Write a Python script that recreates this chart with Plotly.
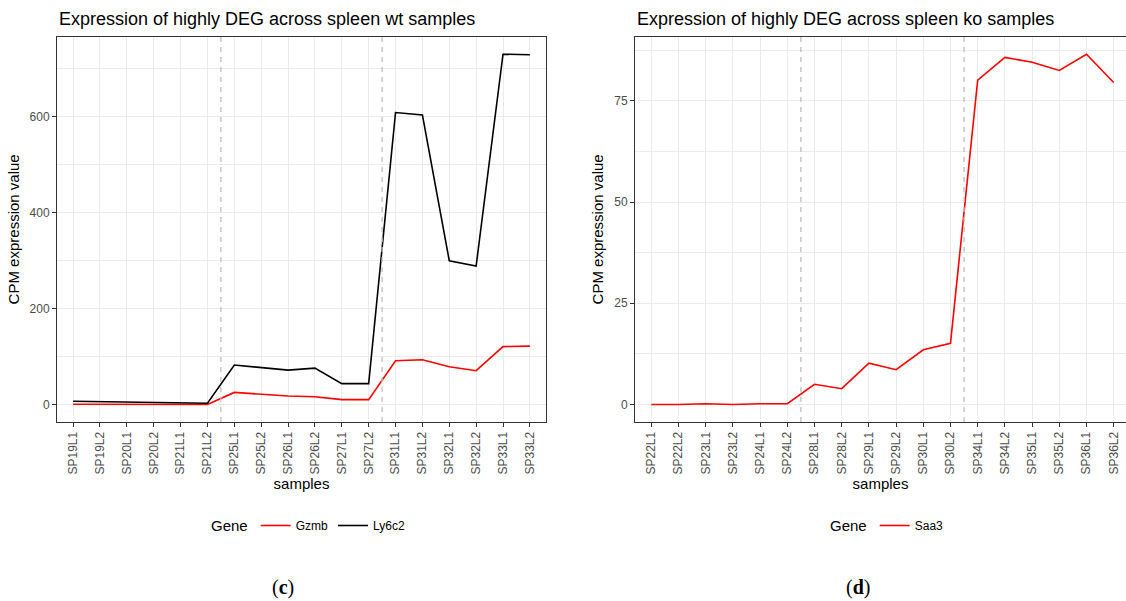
import plotly.graph_objects as go

# ---------------- data ----------------
wt_samples = ["SP19L1", "SP19L2", "SP20L1", "SP20L2", "SP21L1", "SP21L2",
              "SP25L1", "SP25L2", "SP26L1", "SP26L2", "SP27L1", "SP27L2",
              "SP31L1", "SP31L2", "SP32L1", "SP32L2", "SP33L1", "SP33L2"]
wt_gzmb = [0.8, 0.7, 0.5, 0.4, 0.3, 0.3,
           25.5, 22, 18, 16.5, 10.4, 10.4,
           91.5, 93.6, 79, 70.7, 121, 122]
wt_ly6c2 = [7, 6, 5, 4, 3, 3,
            82.5, 78, 72, 76, 43.7, 43.7,
            609, 604, 300, 289, 730.5, 729.5]

ko_samples = ["SP22L1", "SP22L2", "SP23L1", "SP23L2", "SP24L1", "SP24L2",
              "SP28L1", "SP28L2", "SP29L1", "SP29L2", "SP30L1", "SP30L2",
              "SP34L1", "SP34L2", "SP35L1", "SP35L2", "SP36L1", "SP36L2"]
ko_saa3 = [0.0, 0.0, 0.2, 0.0, 0.2, 0.2,
           5.0, 3.9, 10.2, 8.6, 13.5, 15.1,
           80.1, 85.7, 84.5, 82.5, 86.5, 79.5]

group_sizes = [6, 6, 6]

# ---------------- style ----------------
FONT = "Liberation Sans"
GRID = "#EBEBEB"
BORDER = "#333333"
TICKTXT = "#4D4D4D"
W, H = 1126, 601

def px_x(p):
    return p / W

def px_y(p):
    return 1 - p / H

def expand(vals):
    lo, hi = min(vals), max(vals)
    span = hi - lo
    return [lo - 0.05 * span, hi + 0.05 * span]

fig = go.Figure()

fig.add_trace(go.Scatter(x=wt_samples, y=wt_gzmb, mode="lines", name="Gzmb",
                         line=dict(color="#FF0000", width=1.6),
                         xaxis="x", yaxis="y", legend="legend"))
fig.add_trace(go.Scatter(x=wt_samples, y=wt_ly6c2, mode="lines", name="Ly6c2",
                         line=dict(color="#000000", width=1.6),
                         xaxis="x", yaxis="y", legend="legend"))
fig.add_trace(go.Scatter(x=ko_samples, y=ko_saa3, mode="lines", name="Saa3",
                         line=dict(color="#FF0000", width=1.6),
                         xaxis="x2", yaxis="y2", legend="legend2"))

ydom = [px_y(422), px_y(36.7)]
common_x = dict(type="category", showgrid=True, gridcolor=GRID, gridwidth=1,
                showline=True, linecolor=BORDER, linewidth=1,
                ticks="outside", ticklen=4, tickcolor=BORDER, tickwidth=1,
                tickangle=-90, tickfont=dict(family=FONT, size=12, color=TICKTXT),
                zeroline=False,
                title=dict(text="samples", font=dict(family=FONT, size=15, color="black"),
                           standoff=4))
common_y = dict(showgrid=True, gridcolor=GRID, gridwidth=1,
                showline=True, linecolor=BORDER, linewidth=1,
                ticks="outside", ticklen=4, tickcolor=BORDER, tickwidth=1,
                tickfont=dict(family=FONT, size=12, color=TICKTXT),
                zeroline=False,
                title=dict(text="CPM expression value",
                           font=dict(family=FONT, size=15, color="black"), standoff=6))

fig.update_layout(
    xaxis=dict(common_x, domain=[px_x(57), px_x(546)], range=[-0.6, 17.6],
               mirror=True, anchor="y"),
    yaxis=dict(common_y, domain=ydom, range=expand(wt_gzmb + wt_ly6c2),
               tick0=0, dtick=200, mirror=True, anchor="x",
               minor=dict(showgrid=True, dtick=100, gridcolor=GRID, gridwidth=0.6)),
    xaxis2=dict(common_x, domain=[px_x(635), 1.0],
                range=[-0.6, 17.6 - 4 / 27.2], mirror=True, anchor="y2"),
    yaxis2=dict(common_y, domain=ydom, range=expand(ko_saa3),
                tick0=0, dtick=25, mirror=False, anchor="x2",
                minor=dict(showgrid=True, dtick=12.5, gridcolor=GRID, gridwidth=0.6)),
)

# dashed separators between sample groups
for xref, yref in (("x", "y"), ("x2", "y2")):
    pos = -0.5
    for g in group_sizes[:-1]:
        pos += g
        fig.add_shape(type="line", xref=xref, yref=f"{yref} domain",
                      x0=pos, x1=pos, y0=0, y1=1, layer="above",
                      line=dict(color="#BEBEBE", width=1.3, dash="5px,5px"))

# titles
fig.add_annotation(text="Expression of highly DEG across spleen wt samples",
                   xref="paper", yref="paper", x=px_x(57), y=px_y(19),
                   xanchor="left", yanchor="middle", showarrow=False,
                   font=dict(family=FONT, size=18, color="black"))
fig.add_annotation(text="Expression of highly DEG across spleen ko samples",
                   xref="paper", yref="paper", x=px_x(635), y=px_y(19),
                   xanchor="left", yanchor="middle", showarrow=False,
                   font=dict(family=FONT, size=18, color="black"))

# panel labels
for lab, cx in (("c", 283), ("d", 858)):
    fig.add_annotation(text=f"(<b>{lab}</b>)", xref="paper", yref="paper",
                       x=px_x(cx), y=px_y(587), xanchor="center", yanchor="middle",
                       showarrow=False,
                       font=dict(family="Liberation Serif", size=20, color="black"))

legend_common = dict(orientation="h", yanchor="middle", xanchor="left",
                     bgcolor="rgba(0,0,0,0)", itemwidth=30,
                     font=dict(family=FONT, size=12, color="black"),
                     title=dict(text="Gene", side="left",
                                font=dict(family=FONT, size=15, color="black")))
fig.update_layout(
    legend=dict(legend_common, x=px_x(209), y=px_y(526)),
    legend2=dict(legend_common, x=px_x(828), y=px_y(526)),
    width=W, height=H, margin=dict(l=0, r=0, t=0, b=0),
    paper_bgcolor="white", plot_bgcolor="white", showlegend=True,
    font=dict(family=FONT),
)

fig.write_html("out.html")
